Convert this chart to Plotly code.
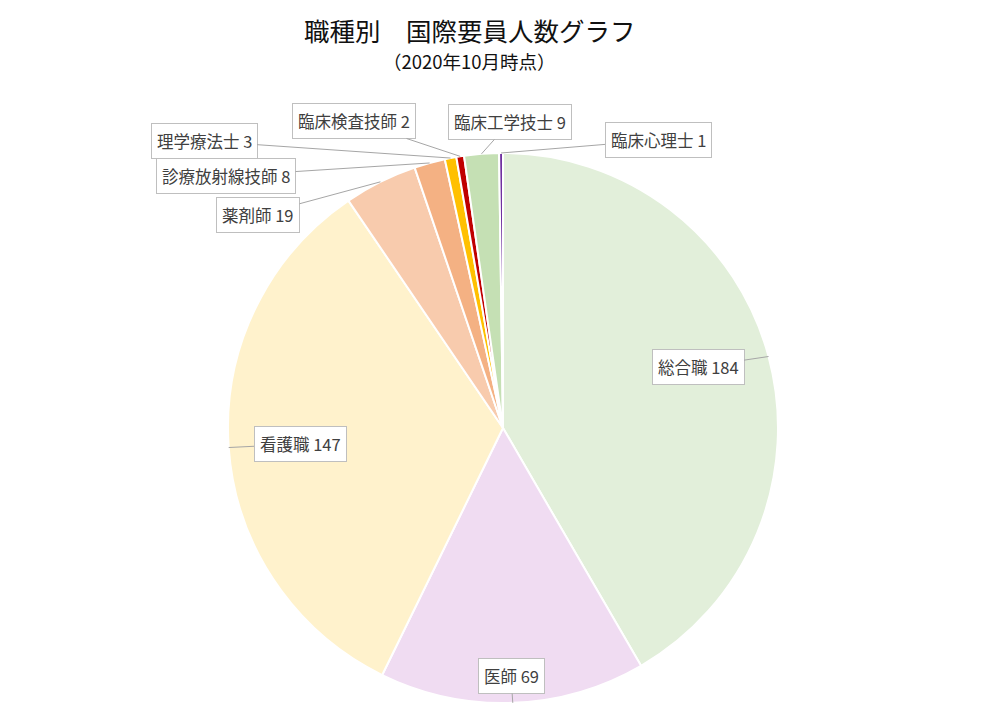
import math
import plotly.graph_objects as go

# data
labels = ["総合職", "医師", "看護職", "薬剤師", "診療放射線技師",
          "理学療法士", "臨床検査技師", "臨床工学技士", "臨床心理士"]
values = [184, 69, 147, 19, 8, 3, 2, 9, 1]
colors = ["#E2EFDA", "#F0DCF2", "#FFF2CC", "#F8CBAD", "#F4B183",
          "#FFC000", "#C00000", "#C5E0B4", "#7030A0"]

title = "職種別　国際要員人数グラフ"
subtitle = "（2020年10月時点）"

# the page body adds an 8px margin, so layout pixels are shifted by it
OFF = 8

# callout box centres in page pixels (layout only)
box_px = [(698, 367), (511, 676), (300, 444), (258, 215), (226, 176),
          (204, 141), (354, 121), (510, 122), (658, 140)]

W, H = 1000, 720
cx, cy, r = 503 - OFF, 428 - OFF, 275
ml, mr, mt, mb = cx - r, W - (cx + r), cy - r, H - (cy + r)


def to_paper(px, py):
    return (px - ml) / (2 * r), (H - mb - py) / (2 * r)


fig = go.Figure()
fig.add_trace(go.Pie(
    labels=labels,
    values=values,
    sort=False,
    direction="clockwise",
    rotation=0,
    textinfo="none",
    marker=dict(colors=colors, line=dict(color="white", width=2)),
    showlegend=False,
    hovertemplate="%{label}: %{value}<extra></extra>",
))

# label callouts pointing to the middle of each slice edge
total = sum(values)
cum = 0
for lab, v, (bx, by) in zip(labels, values, box_px):
    mid = (cum + v / 2) / total * 2 * math.pi
    cum += v
    px = cx + r * math.sin(mid)
    py = cy - r * math.cos(mid)
    x, y = to_paper(px, py)
    fig.add_annotation(
        x=x, y=y, xref="paper", yref="paper",
        text=f"{lab} {v}",
        showarrow=True, arrowhead=0, arrowwidth=1, arrowcolor="#A6A6A6",
        ax=(bx - OFF) - px, ay=(by - OFF) - py,
        bgcolor="white", bordercolor="#BFBFBF", borderwidth=1, borderpad=5,
        font=dict(size=16.5, color="#404040"),
    )

# title and subtitle
tx, ty = to_paper(470 - OFF, 29 - OFF)
fig.add_annotation(x=tx, y=ty, xref="paper", yref="paper", text=title,
                   xanchor="center", yanchor="middle", showarrow=False,
                   borderpad=0, font=dict(size=25.5, color="#111111"))
sx, sy = to_paper(469 - OFF, 61 - OFF)
fig.add_annotation(x=sx, y=sy, xref="paper", yref="paper", text=subtitle,
                   xanchor="center", yanchor="middle", showarrow=False,
                   borderpad=0, font=dict(size=18.5, color="#111111"))

fig.update_layout(
    width=W, height=H,
    margin=dict(l=ml, r=mr, t=mt, b=mb),
    paper_bgcolor="white",
    font=dict(family="Noto Sans CJK JP, sans-serif"),
)

fig.write_html("out.html")
